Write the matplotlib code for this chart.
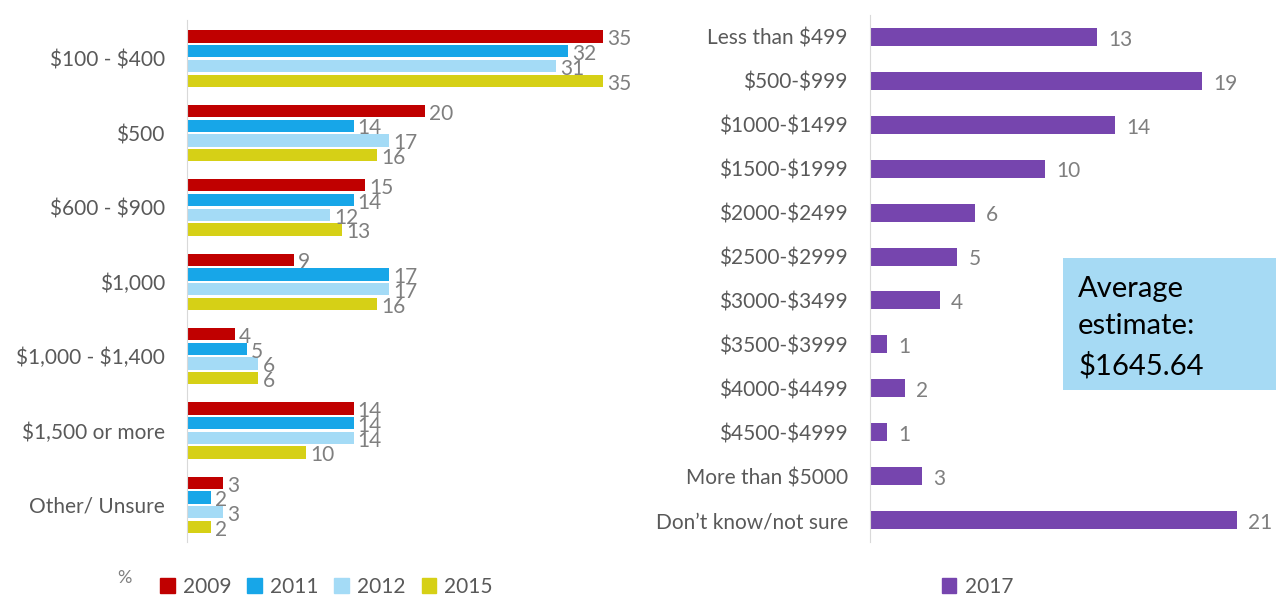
import numpy as np
import matplotlib
matplotlib.use("Agg")
import matplotlib.pyplot as plt
from matplotlib.patches import Rectangle, Patch

plt.rcParams['font.family'] = ['Lato', 'DejaVu Sans']
plt.rcParams['text.parse_math'] = False  # Dollarzeichen als Text

# linke Grafik
kategorien = ["$100 - $400", "$500", "$600 - $900", "$1,000", "$1,000 - $1,400", "$1,500 or more", "Other/ Unsure"]
jahre = ["2009", "2011", "2012", "2015"]
w2009 = [35, 20, 15, 9, 4, 14, 3]
w2011 = [32, 14, 14, 17, 5, 14, 2]
w2012 = [31, 17, 12, 17, 6, 14, 3]
w2015 = [35, 16, 13, 16, 6, 10, 2]
farben = ["#C00000", "#17A6E8", "#A4DBF6", "#D6D016"]

# rechte Grafik
bereiche = ["Less than $499", "$500-$999", "$1000-$1499", "$1500-$1999", "$2000-$2499",
            "$2500-$2999", "$3000-$3499", "$3500-$3999", "$4000-$4499", "$4500-$4999",
            "More than $5000", "Don\u2019t know/not sure"]
w2017 = [13, 19, 14, 10, 6, 5, 4, 1, 2, 1, 3, 21]
lila = "#7645AE"

grau = "#7F7F7F"
dunkelgrau = "#595959"

fig = plt.figure(figsize=(12.76, 5.97), dpi=100)

#--------------------------------- links ---------------------------------#
ax1 = fig.add_axes([0.1466, 0.0921, 0.3542, 0.8744])
y = np.arange(len(kategorien))
serien = [w2009, w2011, w2012, w2015]
for i, (werte, farbe) in enumerate(zip(serien, farben)):
    pos = y + (i - 1.5) * 0.198
    ax1.barh(pos, werte, height=0.165, color=farbe, label=jahre[i])
    for p, v in zip(pos, werte):
        ax1.annotate(str(v), (v, p), xytext=(3, -2), textcoords="offset points",
                     va="center", ha="left", color=grau, fontsize=15)
ax1.set_xlim(0, 38)
ax1.set_ylim(6.5, -0.52)
ax1.set_yticks(y)
ax1.set_yticklabels(kategorien, fontsize=15, color=dunkelgrau)
ax1.set_xticks([])
ax1.tick_params(axis="y", length=0, pad=16)
for s in ["top", "right", "bottom"]:
    ax1.spines[s].set_visible(False)
ax1.spines["left"].set_color("#D9D9D9")

#--------------------------------- rechts ---------------------------------#
ax2 = fig.add_axes([0.6818, 0.0921, 0.3056, 0.8828])
y2 = np.arange(len(bereiche))
ax2.barh(y2, w2017, height=0.41, color=lila, label="2017")
for p, v in zip(y2, w2017):
    ax2.annotate(str(v), (v, p), xytext=(8, -2), textcoords="offset points",
                 va="center", ha="left", color=grau, fontsize=15)
ax2.set_xlim(0, 22.3)
ax2.set_ylim(11.5, -0.5)
ax2.set_yticks(y2)
ax2.set_yticklabels(bereiche, fontsize=15, color=dunkelgrau)
ax2.set_xticks([])
ax2.tick_params(axis="y", length=0, pad=16)
for s in ["top", "right", "bottom"]:
    ax2.spines[s].set_visible(False)
ax2.spines["left"].set_color("#D9D9D9")

# Kasten mit Durchschnitt
fig.patches.append(Rectangle((0.833, 0.3467), 0.167, 0.2211, transform=fig.transFigure,
                             facecolor="#A6DAF4", edgecolor="none", zorder=5))
fig.text(0.845, 0.538, "Average\nestimate:\n$1645.64", fontsize=21, color="black",
         va="top", ha="left", linespacing=1.55, zorder=6)

#--------------------------------- Legenden ---------------------------------#
fig.text(0.092, 0.032, "%", fontsize=13, color=grau, va="center")
griffe = [Patch(color=f) for f in farben]
fig.legend(griffe, jahre, loc="center", bbox_to_anchor=(0.256, 0.017), ncol=4,
           frameon=False, handlelength=0.7, handleheight=0.7, handletextpad=0.4,
           columnspacing=0.75, fontsize=15, labelcolor=dunkelgrau)
fig.legend([Patch(color=lila)], ["2017"], loc="center", bbox_to_anchor=(0.766, 0.017),
           frameon=False, handlelength=0.7, handleheight=0.7, handletextpad=0.4,
           fontsize=15, labelcolor=dunkelgrau)

fig.savefig("out.png", dpi=100)
